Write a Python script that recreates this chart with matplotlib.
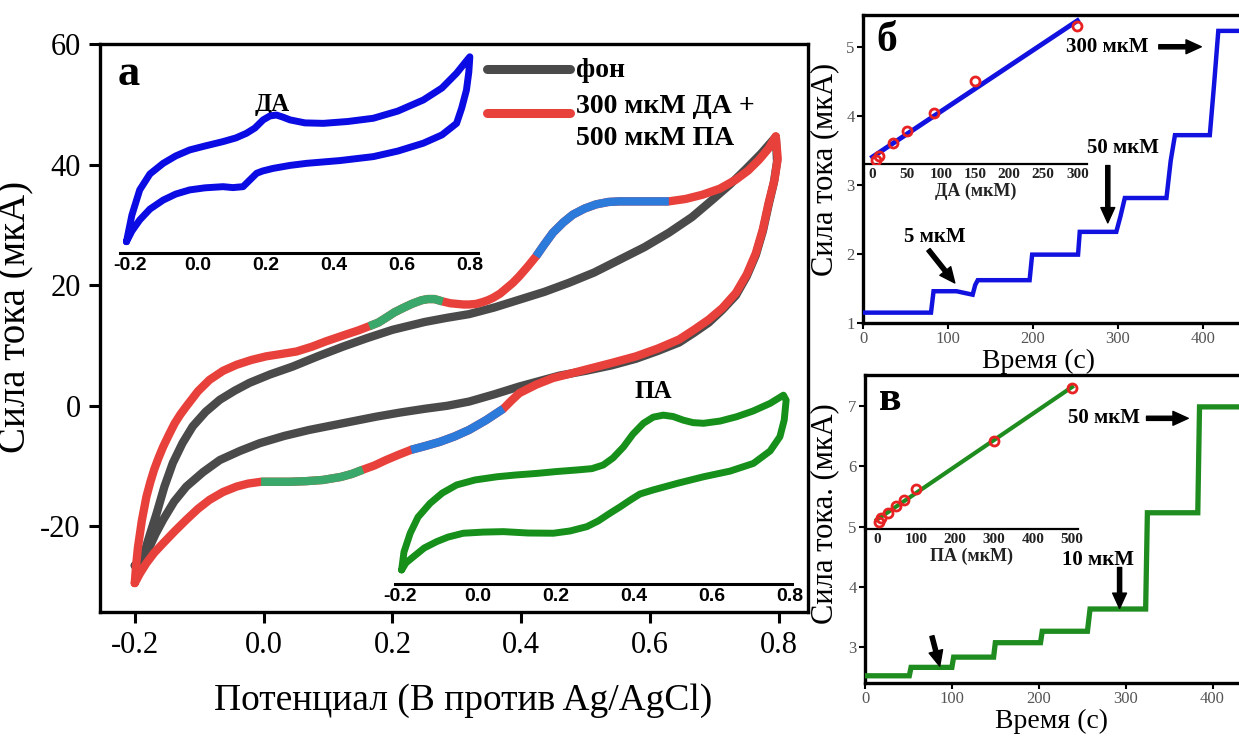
import numpy as np
import matplotlib
matplotlib.use("Agg")
import matplotlib.pyplot as plt

plt.rcParams['font.family'] = ['Liberation Serif', 'DejaVu Serif']
plt.rcParams['axes.unicode_minus'] = False

# ---------------- data: main CV (potential, V ; current, uA) ----------------
bg_fwd_E = [-0.200, -0.187, -0.177, -0.166, -0.154, -0.141, -0.126, -0.110, -0.090, -0.068,
            -0.045, -0.022, 0.010, 0.045, 0.084, 0.123, 0.160, 0.200, 0.250, 0.285,
            0.319, 0.358, 0.397, 0.436, 0.474, 0.513, 0.552, 0.591, 0.629, 0.665,
            0.697, 0.724, 0.748, 0.772, 0.795]
bg_fwd_I = [-26.5, -25.0, -21.5, -17.8, -13.4, -9.5, -6.2, -3.4, -1.0, 1.0,
            2.5, 3.8, 5.2, 6.5, 8.2, 9.8, 11.2, 12.6, 13.9, 14.6,
            15.2, 16.3, 17.6, 18.9, 20.4, 22.1, 24.2, 26.3, 28.7, 31.3,
            34.2, 36.7, 39.2, 41.8, 44.6]
bg_rev_E = [0.795, 0.797, 0.792, 0.784, 0.775, 0.764, 0.750, 0.733, 0.712, 0.691,
            0.668, 0.645, 0.612, 0.578, 0.540, 0.500, 0.459, 0.428, 0.397, 0.358,
            0.319, 0.285, 0.250, 0.213, 0.175, 0.123, 0.071, 0.032, -0.006, -0.037,
            -0.068, -0.094, -0.120, -0.139, -0.156, -0.168, -0.177, -0.190, -0.200]
bg_rev_I = [44.6, 40.5, 37.0, 33.4, 29.0, 25.0, 21.5, 18.3, 15.9, 13.8,
            12.1, 10.5, 9.1, 7.8, 6.7, 5.8, 5.0, 4.1, 3.2, 1.9,
            0.7, 0.0, -0.5, -1.1, -1.8, -2.9, -4.0, -5.0, -6.2, -7.5,
            -9.0, -11.0, -13.4, -15.9, -18.9, -21.3, -23.4, -25.6, -26.5]

mix_fwd_E = [-0.200, -0.198, -0.195, -0.189, -0.182, -0.176, -0.170, -0.163, -0.156, -0.147,
             -0.138, -0.129, -0.120, -0.102, -0.084, -0.063, -0.042, -0.019, 0.004, 0.028,
             0.051, 0.075, 0.097, 0.130, 0.147, 0.164, 0.178, 0.190, 0.203, 0.216,
             0.230, 0.245, 0.255, 0.265, 0.278, 0.290, 0.300, 0.310, 0.319, 0.330,
             0.340, 0.348, 0.356, 0.367, 0.377, 0.387, 0.397, 0.410, 0.423, 0.436,
             0.449, 0.465, 0.480, 0.498, 0.516, 0.535, 0.552, 0.575, 0.600, 0.629,
             0.655, 0.681, 0.708, 0.733, 0.752, 0.769, 0.784, 0.795]
mix_fwd_I = [-29.4, -26.5, -23.4, -19.0, -15.1, -12.7, -10.6, -8.6, -6.8, -4.8,
             -2.9, -1.4, -0.1, 2.4, 4.3, 5.8, 6.8, 7.6, 8.2, 8.6,
             9.0, 9.8, 10.7, 11.9, 12.5, 13.2, 13.8, 14.6, 15.5, 16.2,
             16.9, 17.5, 17.7, 17.7, 17.3, 17.0, 16.9, 16.8, 16.8, 16.9,
             17.2, 17.5, 17.9, 18.6, 19.5, 20.4, 21.5, 23.1, 24.8, 26.8,
             28.7, 30.4, 31.7, 32.7, 33.4, 33.8, 33.9, 33.9, 33.9, 33.9,
             34.3, 35.0, 36.0, 37.5, 39.0, 40.8, 42.7, 44.7]
mix_rev_E = [0.795, 0.798, 0.793, 0.784, 0.775, 0.764, 0.750, 0.733, 0.712, 0.691,
             0.668, 0.645, 0.612, 0.578, 0.540, 0.500, 0.475, 0.449, 0.423, 0.397,
             0.385, 0.372, 0.345, 0.319, 0.296, 0.273, 0.250, 0.229, 0.210, 0.190,
             0.172, 0.154, 0.137, 0.120, 0.092, 0.066, 0.040, 0.018, -0.004, -0.024,
             -0.042, -0.063, -0.084, -0.102, -0.120, -0.138, -0.156, -0.170, -0.182, -0.192,
             -0.200]
mix_rev_I = [44.7, 41.0, 37.5, 33.7, 29.3, 25.3, 21.8, 18.7, 16.2, 14.3,
             12.6, 11.0, 9.5, 8.2, 7.1, 6.0, 5.3, 4.6, 3.5, 2.1,
             0.9, -0.5, -2.4, -4.0, -5.1, -6.0, -6.7, -7.3, -8.1, -9.0,
             -9.9, -10.6, -11.3, -11.8, -12.3, -12.5, -12.6, -12.6, -12.6, -12.9,
             -13.4, -14.3, -15.6, -17.1, -18.9, -20.8, -22.8, -24.4, -26.1, -27.8,
             -29.4]

# potential windows of the DA / PA redox waves on the mixture curve
da_wave_fwd = (0.164, 0.278)
pa_wave_fwd = (0.423, 0.629)
da_wave_rev = (-0.004, 0.154)
pa_wave_rev = (0.229, 0.372)

# ---------------- data: inset CVs ----------------
da_E = [-0.210, -0.194, -0.171, -0.141, -0.102, -0.065, -0.024, 0.021, 0.074, 0.112,
        0.143, 0.168, 0.192, 0.212, 0.231, 0.250, 0.271, 0.315, 0.369, 0.441,
        0.516, 0.588, 0.663, 0.718, 0.761, 0.785, 0.800,
        0.797, 0.790, 0.776, 0.761, 0.718, 0.663, 0.588, 0.516, 0.418, 0.320,
        0.271, 0.221, 0.191, 0.173, 0.153, 0.133, 0.103, 0.074, 0.021, -0.024,
        -0.065, -0.102, -0.141, -0.171, -0.194, -0.210]
da_I = [-25.1, -13.6, -2.7, 4.2, 8.8, 12.0, 14.6, 16.3, 18.2, 19.8,
        21.8, 24.1, 27.6, 29.3, 29.7, 28.8, 27.6, 26.3, 26.1, 26.9,
        28.3, 31.4, 36.2, 41.4, 47.8, 52.2, 54.9,
        48.3, 40.5, 32.7, 26.1, 21.1, 17.5, 14.1, 11.7, 10.0, 8.8,
        7.9, 6.6, 5.5, 4.5, 1.6, -1.3, -1.7, -1.3, -1.8, -2.7,
        -4.5, -7.1, -11.0, -15.7, -20.5, -25.1]

pa_E = [-0.196, -0.190, -0.174, -0.154, -0.123, -0.092, -0.055, -0.008, 0.048, 0.097,
        0.151, 0.200, 0.253, 0.292, 0.321, 0.346, 0.373, 0.397, 0.424, 0.449,
        0.475, 0.500, 0.526, 0.551, 0.578, 0.621, 0.663, 0.705, 0.749, 0.783,
        0.790, 0.785, 0.774, 0.749, 0.706, 0.646, 0.578, 0.513, 0.449, 0.415,
        0.390, 0.364, 0.338, 0.308, 0.279, 0.236, 0.193, 0.128, 0.065, 0.013,
        -0.038, -0.077, -0.106, -0.138, -0.166, -0.185, -0.196]
pa_I = [-23.8, -15.9, -7.6, -0.5, 5.6, 10.1, 13.7, 15.9, 17.3, 18.1,
        18.8, 19.6, 20.3, 20.9, 22.5, 25.6, 30.5, 36.1, 40.9, 43.6,
        44.5, 43.9, 42.3, 41.2, 40.9, 41.9, 43.8, 46.3, 49.7, 53.3,
        51.1, 42.3, 35.0, 28.7, 23.2, 19.8, 17.3, 14.5, 11.5, 9.7,
        7.0, 4.0, 1.2, -2.2, -4.7, -6.6, -7.6, -7.5, -6.9, -7.1,
        -7.6, -9.3, -11.3, -14.1, -18.0, -20.7, -23.8]

# ---------------- data: amperometry, DA additions ----------------
da_t = [0, 80, 83, 110, 129, 132, 135, 196, 199, 253, 255, 298, 303, 308, 357, 362, 367,
        408, 413, 418, 470]
da_i = [1.15, 1.15, 1.46, 1.46, 1.41, 1.55, 1.62, 1.62, 1.99, 1.99, 2.32, 2.32, 2.55, 2.81,
        2.81, 3.35, 3.72, 3.72, 4.45, 5.23, 5.23]
da_conc = [5, 10, 30, 50, 90, 150, 300]
da_cal = [3.36, 3.41, 3.60, 3.78, 4.04, 4.51, 5.30]

# ---------------- data: amperometry, PA additions ----------------
pa_t = [0, 51, 53, 100, 102, 148, 150, 202, 204, 256, 259, 323, 325, 383, 385, 470]
pa_i = [2.52, 2.52, 2.66, 2.66, 2.83, 2.83, 3.07, 3.07, 3.26, 3.26, 3.63, 3.63, 5.23, 5.23,
        6.99, 6.99]
pa_conc = [5, 10, 30, 50, 70, 100, 300, 500]
pa_cal = [5.08, 5.15, 5.23, 5.34, 5.44, 5.63, 6.43, 7.31]

# ---------------- styling ----------------
W, H = 1239, 736
C_BG = '#4a4a4a'
C_MIX = '#e8413b'
C_DAW = '#3aa86a'
C_PAW = '#2c7ad9'
C_DA = '#0b0be3'
C_PA = '#16901a'
C_STEP_DA = '#1212e0'
C_STEP_PA = '#1f8c1f'
C_PT = '#e82222'

fig = plt.figure(figsize=(W / 100, H / 100), dpi=100)


def px_axes(left, top, right, bottom, **kw):
    return fig.add_axes([left / W, 1 - bottom / H, (right - left) / W, (bottom - top) / H], **kw)


def segment(ax, E, I, window, color, lw):
    E = np.asarray(E)
    I = np.asarray(I)
    m = (E >= window[0] - 1e-9) & (E <= window[1] + 1e-9)
    ax.plot(E[m], I[m], color=color, lw=lw, solid_capstyle='butt', solid_joinstyle='round', zorder=4)


# ================= panel а =================
ax = px_axes(100, 44, 808, 612)
lw_main = 6.0
ax.plot(bg_fwd_E + bg_rev_E, bg_fwd_I + bg_rev_I, color=C_BG, lw=lw_main,
        solid_joinstyle='round', solid_capstyle='round', zorder=2)
ax.plot(mix_fwd_E + mix_rev_E, mix_fwd_I + mix_rev_I, color=C_MIX, lw=lw_main,
        solid_joinstyle='round', solid_capstyle='round', zorder=3)
segment(ax, mix_fwd_E, mix_fwd_I, da_wave_fwd, C_DAW, lw_main)
segment(ax, mix_fwd_E, mix_fwd_I, pa_wave_fwd, C_PAW, lw_main)
segment(ax, mix_rev_E, mix_rev_I, da_wave_rev, C_DAW, lw_main)
segment(ax, mix_rev_E, mix_rev_I, pa_wave_rev, C_PAW, lw_main)

ax.set_xlim(-0.254, 0.845)
ax.set_ylim(-34.2, 60)
ax.set_xticks([-0.2, 0.0, 0.2, 0.4, 0.6, 0.8])
ax.set_xticklabels(['-0.2', '0.0', '0.2', '0.4', '0.6', '0.8'])
ax.set_yticks([-20, 0, 20, 40, 60])
ax.tick_params(direction='out', length=8, width=2.2, labelsize=22, pad=6)
for s in ax.spines.values():
    s.set_linewidth(2.4)
ax.set_xlabel('Потенциал (В против Ag/AgCl)', fontsize=27)
ax.set_ylabel('Сила тока (мкА)', fontsize=28)
ax.xaxis.set_label_coords(0.513, -0.125)
ax.yaxis.set_label_coords(-0.092, 0.52)

ax.text(-0.209, 55.0, 'а', fontsize=32, fontweight='bold', ha='center', va='center')
ax.text(0.014, 50.0, 'ДА', fontsize=18, fontweight='bold', ha='center', va='center')
ax.text(0.605, 2.3, 'ПА', fontsize=18, fontweight='bold', ha='center', va='center')

# legend drawn as lines and labels
ax.plot([0.346, 0.475], [55.8, 55.8], color=C_BG, lw=6.5, solid_capstyle='round', zorder=5)
ax.plot([0.346, 0.475], [48.6, 48.6], color=C_MIX, lw=6.5, solid_capstyle='round', zorder=5)
ax.text(0.485, 55.6, 'фон', fontsize=20, fontweight='bold', va='center', ha='left')
ax.text(0.485, 49.7, '300 мкМ ДА +', fontsize=20, fontweight='bold', va='center', ha='left')
ax.text(0.485, 44.4, '500 мкМ ПА', fontsize=20, fontweight='bold', va='center', ha='left')


def cv_inset(left, top, right, bottom, xlim, E, I, color):
    a = px_axes(left, top, right, bottom)
    a.patch.set_alpha(0)
    a.plot(E, I, color=color, lw=5.0, solid_joinstyle='round', solid_capstyle='round')
    a.set_xlim(*xlim)
    a.set_ylim(-30, 60)
    for k in ('top', 'right', 'left'):
        a.spines[k].set_visible(False)
    a.spines['bottom'].set_linewidth(2.2)
    a.set_yticks([])
    a.set_xticks([-0.2, 0.0, 0.2, 0.4, 0.6, 0.8])
    a.set_xticklabels(['-0.2', '0.0', '0.2', '0.4', '0.6', '0.8'],
                      family=['Liberation Sans', 'DejaVu Sans'], fontweight='bold')
    a.tick_params(axis='x', length=0, labelsize=14, pad=3)
    return a


cv_inset(120, 45, 478, 253, (-0.229, 0.824), da_E, da_I, C_DA)
cv_inset(395, 380, 792, 584, (-0.213, 0.805), pa_E, pa_I, C_PA)

arrow_kw = dict(facecolor='black', edgecolor='black', width=3.0, headwidth=10, headlength=11, shrink=0)


def step_panel(left, top, bottom, xmax, ylim, t, i, color, lw, yticks, ylabel, ylab_xy, xlab_xy):
    a = px_axes(left, top, left + 391, bottom)
    a.plot(t, i, color=color, lw=lw, solid_joinstyle='miter', zorder=3)
    a.set_xlim(0, xmax)
    a.set_ylim(*ylim)
    a.set_xticks([0, 100, 200, 300, 400])
    a.set_yticks(yticks)
    a.tick_params(direction='out', length=4, width=1.5, labelsize=12, labelcolor='#555555', pad=2)
    for s in a.spines.values():
        s.set_linewidth(2.4)
    a.set_ylabel(ylabel, fontsize=22)
    a.set_xlabel('Время (с)', fontsize=20)
    a.yaxis.set_label_coords(*ylab_xy)
    a.xaxis.set_label_coords(*xlab_xy)
    return a


# ================= panel б =================
axb = step_panel(863, 15, 323, 460, (1.0, 5.46), da_t, da_i, C_STEP_DA, 3.2, [1, 2, 3, 4, 5],
                 'Сила тока (мкА)', (-0.062, 0.5), (0.45, -0.085))
axb.text(28, 5.08, 'б', fontsize=30, fontweight='bold', ha='center', va='center')
axb.text(287, 5.0, '300 мкМ', fontsize=15, fontweight='bold', ha='center', va='center')
axb.annotate('', xy=(398, 5.0), xytext=(348, 5.0), arrowprops=arrow_kw)
axb.text(306, 3.54, '50 мкМ', fontsize=15, fontweight='bold', ha='center', va='center')
axb.annotate('', xy=(288, 2.45), xytext=(288, 3.28), arrowprops=arrow_kw)
axb.text(85, 2.24, '5 мкМ', fontsize=15, fontweight='bold', ha='center', va='center')
axb.annotate('', xy=(108, 1.58), xytext=(77, 2.06), arrowprops=arrow_kw)

ib = px_axes(865, 15, 1087, 164)
ib.patch.set_alpha(0)
fit_b = np.polyfit(da_conc, da_cal, 1)
ib.plot([0, da_conc[-1]], np.polyval(fit_b, [0, da_conc[-1]]), color=C_STEP_DA, lw=3.5, zorder=2)
ib.plot(da_conc, da_cal, 'o', ms=6.5, mfc='none', mec=C_PT, mew=2.0, zorder=3)
ib.set_xlim(-11, 314)
ib.set_ylim(3.30, 5.46)
for k in ('top', 'right', 'left'):
    ib.spines[k].set_visible(False)
ib.spines['bottom'].set_linewidth(1.6)
ib.set_yticks([])
ib.set_xticks([0, 50, 100, 150, 200, 250, 300])
ib.tick_params(axis='x', length=0, labelsize=11, pad=3, labelcolor='#222222')
for lab in ib.get_xticklabels():
    lab.set_fontweight('bold')
ib.set_xlabel('ДА (мкМ)', fontsize=13, fontweight='bold', labelpad=1, color='#222222')

# ================= panel в =================
axc = step_panel(865, 375, 683, 450, (2.4, 7.52), pa_t, pa_i, C_STEP_PA, 3.8, [3, 4, 5, 6, 7],
                 'Сила тока. (мкА)', (-0.067, 0.55), (0.478, -0.085))
axc.text(29, 7.1, 'в', fontsize=30, fontweight='bold', ha='center', va='center')
axc.text(275, 6.80, '50 мкМ', fontsize=15, fontweight='bold', ha='center', va='center')
axc.annotate('', xy=(372, 6.80), xytext=(324, 6.80), arrowprops=arrow_kw)
axc.text(268, 4.45, '10 мкМ', fontsize=15, fontweight='bold', ha='center', va='center')
axc.annotate('', xy=(293, 3.64), xytext=(293, 4.32), arrowprops=arrow_kw)
axc.annotate('', xy=(86, 2.68), xytext=(77, 3.18), arrowprops=arrow_kw)

ic = px_axes(865, 375, 1078, 529)
ic.patch.set_alpha(0)
fit_c = np.polyfit(pa_conc, pa_cal, 1)
ic.plot([0, pa_conc[-1]], np.polyval(fit_c, [0, pa_conc[-1]]), color=C_STEP_PA, lw=3.0, zorder=2)
ic.plot(pa_conc, pa_cal, 'o', ms=6.5, mfc='none', mec=C_PT, mew=2.0, zorder=3)
ic.set_xlim(-30, 515)
ic.set_ylim(4.96, 7.52)
for k in ('top', 'right', 'left'):
    ic.spines[k].set_visible(False)
ic.spines['bottom'].set_linewidth(1.6)
ic.set_yticks([])
ic.set_xticks([0, 100, 200, 300, 400, 500])
ic.tick_params(axis='x', length=0, labelsize=11, pad=3, labelcolor='#222222')
for lab in ic.get_xticklabels():
    lab.set_fontweight('bold')
ic.set_xlabel('ПА (мкМ)', fontsize=13, fontweight='bold', labelpad=1, color='#222222')

fig.savefig('out.png', dpi=100)
